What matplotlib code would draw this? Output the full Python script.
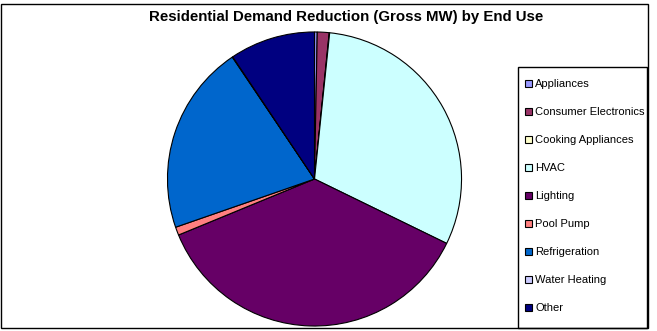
import matplotlib
matplotlib.use("Agg")
import matplotlib.pyplot as plt
from matplotlib.patches import Rectangle, Patch

plt.rcParams["font.family"] = ["Liberation Sans", "DejaVu Sans"]

# Residential demand reduction by end use (share of gross MW, %)
end_uses = ["Appliances", "Consumer Electronics", "Cooking Appliances", "HVAC",
            "Lighting", "Pool Pump", "Refrigeration", "Water Heating", "Other"]
shares = [0.3, 1.3, 0.05, 30.6, 36.6, 0.9, 20.9, 0.05, 9.4]
colors = ["#9999FF", "#993366", "#FFFFCC", "#CCFFFF", "#660066",
          "#FF8080", "#0066CC", "#CCCCFF", "#000080"]

W, H = 657, 331
fig = plt.figure(figsize=(W / 100, H / 100), dpi=100)

def px_box(x0, y0, x1, y1):
    # pixel box (top-left origin) -> figure fraction rect
    return [x0 / W, 1 - y1 / H, (x1 - x0) / W, (y1 - y0) / H]

# outer chart border
fx, fy, fw, fh = px_box(1, 4, 648, 328)
fig.patches.append(Rectangle((fx, fy), fw, fh, transform=fig.transFigure,
                             fill=False, edgecolor="black", linewidth=1.0))

# pie
cx, cy, r = 314.5, 179, 148.5
ax = fig.add_axes(px_box(cx - r, cy - r, cx + r, cy + r))
ax.pie(shares, colors=colors, startangle=90, counterclock=False, radius=1,
       wedgeprops=dict(edgecolor="black", linewidth=0.8))
ax.set_xlim(-1.01, 1.01)
ax.set_ylim(-1.01, 1.01)
ax.set_aspect("equal")
ax.axis("off")

fig.text(346 / W, 1 - 17 / H, "Residential Demand Reduction (Gross MW) by End Use",
         ha="center", va="center", fontsize=10.8, fontweight="bold")

# legend box
lx, ly, lw, lh = px_box(518, 67, 647, 328)
fig.patches.append(Rectangle((lx, ly), lw, lh, transform=fig.transFigure,
                             fill=False, edgecolor="black", linewidth=1.0))
handles = [Patch(facecolor=c, edgecolor="black", linewidth=0.8) for c in colors]
fig.legend(handles, end_uses, loc="upper left", bbox_to_anchor=(525 / W, 1 - 79 / H),
           frameon=False, fontsize=8, handlelength=0.6, handleheight=0.6,
           handletextpad=0.3, labelspacing=1.62, borderpad=0, borderaxespad=0)

fig.savefig("out.png", dpi=100)
